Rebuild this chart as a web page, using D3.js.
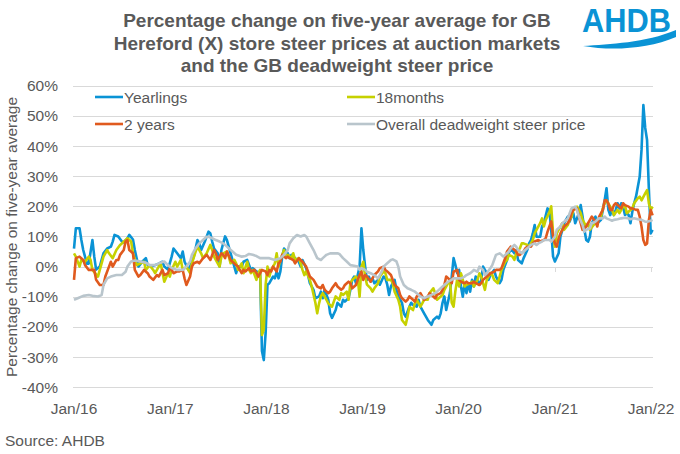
<!DOCTYPE html>
<html><head><meta charset="utf-8">
<script src="https://cdn.jsdelivr.net/npm/d3@7"></script>
<style>body{margin:0;background:#fff}svg{display:block;font-family:"Liberation Sans",Arial,sans-serif}</style>
</head><body><svg id="c" width="680" height="454"></svg>
<script>
// week index (weeks after 1 Jan 2016), % change on five-year average
const yearlings = [[0,6],[1,12.7],[3,12.7],[4,8.8],[5,5.5],[7,1],[8,1],[10,8.8],[11,3.3],[12,-1],[14,0],[15,2.2],[16,4.4],[18,6],[20,6.6],[21,8.3],[22,10.5],[24,10],[26,8.3],[27,8],[29,9.4],[30,10.5],[32,9],[33,5.5],[35,0],[37,1.6],[39,2.8],[40,0.5],[42,0],[44,0.5],[46,1],[48,1.6],[49,0],[51,-1],[53,3.3],[54,6],[56,4.4],[58,2.8],[59,5],[60,1.6],[62,-1],[63,0],[65,3.3],[67,8.8],[68,7.7],[69,5.5],[71,8.3],[73,11.6],[74,11],[75,8.3],[76,6],[78,4.4],[79,0],[80,5.5],[82,10],[83,8.8],[85,4.4],[86,2.2],[88,-2.2],[89,0],[91,0],[92,1.6],[94,2.2],[96,-1.1],[97,-0.5],[99,-1.6],[101,-2.2],[102,-28],[103,-31],[104,-22],[105,-6],[106,-5.5],[108,-3.3],[109,-3.9],[110,-1.6],[111,-3.9],[112,-1.6],[113,3.3],[114,6],[116,4.4],[117,2.8],[118,3.9],[120,2.8],[122,1.6],[123,0],[124,2.2],[126,-0.5],[127,-2.7],[128,-5.5],[130,-7.7],[131,-10.5],[133,-9.9],[134,-8.3],[135,-10.5],[136,-7.7],[138,-11],[139,-15.5],[140,-17],[142,-14.4],[143,-12],[145,-13.3],[146,-11],[147,-11.6],[149,-10.5],[150,-7.7],[151,-4.4],[152,-3.3],[153,-5.5],[155,0],[156,12.7],[157,5.5],[158,0],[159,-4.4],[160,-3.3],[161,-5],[162,-3.9],[163,-5.5],[165,-4.4],[166,-6],[168,-3.3],[169,-3.9],[170,-6],[171,-9.4],[172,-6.6],[174,-4.4],[175,-7.7],[176,-9.9],[178,-12],[179,-15.5],[180,-16.6],[182,-13.3],[183,-12],[184,-12.7],[186,-13.3],[187,-11],[188,-13.3],[190,-15.5],[191,-16.6],[192,-17.7],[194,-19.3],[195,-17.7],[197,-16.6],[198,-17.2],[199,-15.5],[200,-12],[201,-9.9],[202,-14.4],[204,-8.8],[205,-3.3],[206,2.8],[207,0.5],[208,-2.2],[209,-1.1],[210,-6.6],[211,-10],[212,-5.5],[213,-8.8],[214,-5.5],[215,-8.3],[216,-4.4],[217,-6.6],[218,-3.3],[220,-6],[221,-4.4],[222,0],[224,-2.2],[225,-4.4],[226,-2.8],[228,-1.1],[229,-3.3],[231,-5.5],[232,-4.4],[233,-1.1],[235,2.2],[236,4.4],[237,6],[239,4.4],[240,5.5],[241,2.2],[243,1.1],[244,2.8],[246,5.5],[247,7.7],[248,8.8],[249,11],[250,13.8],[251,9.9],[253,9.9],[254,13.3],[255,14.4],[257,19.3],[258,18.8],[259,12],[260,3.3],[261,1.7],[263,4.4],[264,10],[265,12],[266,14.4],[268,16.6],[269,14.9],[270,16.6],[271,17.7],[272,14.4],[274,17.7],[275,20.4],[276,16.6],[277,12.2],[278,8.8],[279,8.3],[280,9.9],[281,14.4],[282,15.5],[283,16.6],[284,14.4],[286,15.5],[287,18.8],[288,22],[289,26],[290,18.8],[291,17.1],[292,18.8],[293,17.1],[294,18.8],[295,21],[296,19.3],[297,21],[298,19.9],[299,17.1],[300,17.7],[301,17.1],[302,14.4],[303,18.2],[304,21],[305,23.2],[306,26.5],[307,29.8],[308,38.7],[309,53.6],[310,46],[311,42],[312,25.4],[313,11],[314,12.2]];
const months18 = [[0,4.4],[1,3.3],[3,0],[4,2.2],[6,1.6],[8,3.3],[9,2.2],[10,-1.1],[13,-3.3],[14,-1.1],[16,3.3],[18,5.5],[19,4.4],[21,2.8],[23,5.5],[25,7.2],[26,7.7],[28,8.8],[29,9.4],[31,8.3],[32,4.4],[34,0.5],[36,1.1],[38,1.6],[39,-1.1],[41,0.5],[43,-1.1],[44,-2.2],[46,0],[47,1.1],[49,-5],[51,-2.2],[52,-3.3],[53,-1.1],[55,1.6],[56,0],[58,2.2],[59,-1.1],[61,0],[63,-2.2],[64,1.1],[66,5],[67,6.6],[69,4.4],[70,2.8],[72,4.4],[74,7.2],[75,5.5],[76,3.3],[78,1.1],[79,0],[80,3.3],[81,4.4],[83,5],[84,3.3],[85,1.1],[87,2.2],[88,1.1],[89,-1.1],[91,1.1],[92,-2.2],[94,1.6],[95,-1.1],[96,-2.2],[97,-1.1],[99,-4.4],[100,-2.2],[101,-1.1],[102,-22.7],[103,-21],[104,-6],[105,0],[106,-3.3],[107,-1.1],[109,1.1],[110,4.4],[111,0],[112,2.2],[114,5.5],[115,3.3],[116,3.9],[118,2.8],[119,4.4],[120,2.2],[122,2.8],[123,1.1],[124,-1.1],[125,-2.8],[126,-1.6],[128,-4.4],[129,-6.6],[131,-12],[132,-15.5],[133,-12.2],[134,-9.9],[135,-8.8],[137,-11],[138,-12.2],[140,-13.3],[141,-11.6],[142,-9.9],[144,-11],[145,-8.8],[146,-9.4],[148,-8.3],[149,-11],[150,-5.5],[151,-4.4],[153,-3.3],[154,-4],[155,-10],[156,0],[157,1.6],[158,-3.3],[159,-6],[161,-7.2],[162,-8.3],[163,-7.2],[165,-5.5],[166,-3.3],[168,-1.6],[169,-2.2],[170,-4.4],[172,-4.4],[173,-5.5],[174,-8.3],[176,-11],[177,-13.3],[178,-17.7],[180,-19.3],[181,-16.6],[182,-13.3],[184,-14.4],[185,-12.2],[186,-11],[188,-13.3],[189,-12.2],[190,-11],[192,-11],[193,-8.8],[195,-7.2],[196,-8.8],[197,-11],[199,-9.9],[200,-9.4],[201,-7.7],[203,-5.5],[204,-4.4],[205,-12],[206,-13.3],[207,-8],[208,-4],[209,-6.6],[210,-2.2],[211,-4.4],[212,-6.6],[213,-6],[215,-5.5],[216,-5],[217,-6.6],[219,-4.4],[220,-2.2],[221,-3.3],[223,-7.7],[224,-4.4],[226,-2.2],[227,-2.8],[228,-4.4],[230,-5.5],[231,-3.3],[232,-1.1],[234,1.6],[235,2.2],[236,3.9],[238,3.3],[239,2.2],[240,4.4],[242,6.1],[243,7.7],[244,7.7],[246,7.2],[247,6.6],[249,8.8],[250,11],[251,12.2],[253,14.4],[254,16],[255,13.3],[256,15.5],[258,18],[259,20],[260,11],[261,6.6],[262,11],[264,13.3],[265,14.4],[266,12.2],[268,13.8],[269,15.5],[270,16.6],[271,18.8],[273,19.9],[274,18.8],[275,17.7],[276,15.5],[278,13.3],[279,14.4],[280,12.2],[282,13.8],[283,14.4],[284,15.5],[286,16.6],[287,19.3],[288,21],[289,22],[291,19.9],[292,18.8],[293,17.1],[295,18.8],[296,17.7],[298,19.9],[299,20.4],[300,17.7],[302,18.8],[303,19.3],[304,21],[306,22.7],[307,23.2],[308,22],[310,24.3],[311,25.4],[312,21],[313,18.8],[314,19.9]];
const years2 = [[0,-4.4],[1,2.8],[3,3.3],[5,2.2],[6,0.5],[8,-1.1],[10,-1.1],[11,-1.1],[12,-4.4],[14,-6.1],[16,-6.1],[17,-3.3],[19,0],[20,1.6],[21,0],[23,2.2],[24,2.2],[25,3.9],[27,5.5],[28,8.3],[29,8.8],[30,5.5],[32,4.4],[33,-1.1],[35,-3.3],[36,-2.8],[38,-1.1],[40,-2.2],[41,-3.3],[43,-4.4],[45,-2.8],[46,-3.3],[48,-1.1],[49,-2.8],[51,-2.2],[52,-0.5],[53,-1.1],[54,-2.2],[56,-1.6],[57,-1.6],[59,-1.1],[60,-3.9],[61,-6.1],[63,-3.3],[64,0],[65,1.1],[67,1.6],[68,1.1],[70,2.8],[71,3.3],[72,3.9],[74,2.2],[76,5.5],[77,4.4],[78,2.2],[80,4.4],[81,3.9],[82,2.8],[83,5],[85,2.2],[86,1.6],[88,0.5],[89,0],[91,-2.2],[92,-1.1],[93,-1.6],[95,-0.5],[96,-1.6],[98,-1.1],[99,-2.2],[100,-3.3],[102,-1.1],[104,-1.6],[105,-2.8],[106,-1.1],[107,-1.6],[108,0],[110,-1.6],[111,1.1],[112,1.6],[113,3.9],[115,2.8],[116,3.3],[117,2.8],[119,2.2],[120,1.1],[122,2.8],[123,2.2],[124,1.6],[126,0],[127,-1.6],[128,-3.3],[130,-4.4],[131,-5.5],[132,-6.6],[134,-7.2],[135,-6.1],[136,-7.7],[138,-8.8],[139,-8.3],[140,-7.2],[142,-5.5],[143,-6.6],[145,-7.7],[146,-7.2],[147,-6.1],[149,-5],[150,-5.5],[151,-7.2],[153,-6.1],[154,-4.4],[155,-2.8],[156,-1.7],[157,-4.4],[158,-2.8],[159,-3.3],[161,-5],[162,-3.9],[163,-2.8],[165,-1.6],[166,-0.5],[168,0],[169,-1.1],[170,-1.6],[172,-2.8],[173,-4.4],[174,-6.1],[176,-7.2],[177,-9.4],[178,-10.5],[180,-11.6],[181,-11],[182,-9.9],[184,-11],[185,-11.6],[186,-9.9],[188,-8.8],[189,-9.9],[190,-11],[192,-9.9],[193,-8.8],[195,-9.9],[196,-10.5],[197,-9.4],[199,-8.8],[200,-7.7],[201,-6.1],[202,-3.3],[204,-4.4],[205,-5.5],[206,-1.7],[208,-1.1],[209,-4.4],[210,-5],[212,-5.5],[213,-5],[214,-5.5],[216,-5.5],[217,-5],[218,-5.5],[220,-6.1],[221,-5.5],[222,-4.4],[224,-3.3],[225,-2.8],[226,-2.2],[228,-1.7],[229,-1.1],[231,-1.1],[232,-0.5],[233,1.1],[234,2.8],[235,5],[237,6.6],[238,6.1],[240,5],[241,3.9],[242,3.9],[244,5],[245,6.1],[246,6.6],[248,6.6],[249,7.7],[250,8.3],[252,8.8],[253,8.3],[255,8.8],[256,9.4],[257,11.6],[258,13.3],[259,15],[260,10],[261,7.7],[262,6.6],[263,9.4],[264,11],[265,12.2],[266,13.3],[268,14.4],[269,15.5],[270,17.7],[271,18.8],[273,19.3],[274,16.6],[275,14.4],[276,12.2],[278,13.3],[279,14.4],[280,15.5],[281,16.6],[283,14.9],[284,13.3],[285,16.6],[287,18.8],[288,22],[289,22],[290,20.9],[291,18.8],[292,18.8],[293,20.4],[294,21],[296,19.9],[297,19.3],[298,21],[299,20.4],[301,19.9],[302,19.3],[303,19.3],[305,18.8],[306,18.8],[307,16.6],[308,13.3],[309,8.8],[310,7.2],[311,7.7],[312,15.5],[313,18.8],[314,17]];
const deadweight = [[0,-11],[2,-10.5],[5,-9.7],[8,-9.4],[10,-9.7],[13,-9.9],[15,-9.4],[16,-6.1],[18,-3.9],[20,-3.3],[23,-2.8],[26,-2.8],[28,-1.7],[29,0],[31,1.7],[33,2],[36,1.7],[39,1.3],[41,0.5],[44,0.5],[47,1.3],[49,1.7],[51,0.5],[53,-0.5],[56,-1.1],[59,-1.1],[61,0],[63,1.7],[64,3.9],[66,6.1],[68,7.7],[70,8.8],[72,9.9],[73,9.9],[75,9.4],[77,8.8],[79,8.3],[81,7.7],[82,7.2],[84,6.1],[86,5],[88,3.9],[90,3.5],[91,3.3],[93,3.5],[95,4.2],[97,3.9],[99,3.5],[101,2.8],[102,2.8],[106,2.8],[109,2.2],[112,2.8],[114,3.9],[116,5.5],[117,7.7],[119,9.4],[121,10.5],[123,10],[125,10.5],[126,10],[128,7.7],[130,5.5],[132,2.8],[134,2.2],[135,2.8],[137,3.9],[139,4.4],[141,4.4],[143,4.4],[144,4.2],[146,2.8],[148,1.7],[150,0.5],[152,0.3],[154,0],[155,-1.1],[156,-0.5],[158,-1.1],[159,-1.7],[161,-2.2],[163,-2.8],[165,-3.9],[167,-1.7],[168,0],[170,1.1],[172,2.2],[173,2.4],[175,1.7],[176,0],[177,-3.3],[179,-6.1],[181,-7.2],[183,-7.7],[185,-8.3],[186,-8.8],[188,-9.9],[190,-10.5],[192,-9.9],[194,-9.4],[196,-8.8],[197,-8.3],[199,-7.2],[201,-6.1],[203,-5],[205,-4.4],[206,-3.9],[208,-3.9],[210,-3.9],[212,-3.3],[213,-2.8],[215,-2.2],[216,-1.7],[217,-1.1],[219,-1.7],[220,0],[222,-1.1],[223,-2.8],[224,-2.2],[226,-0.5],[227,0.5],[228,2.2],[229,3.9],[231,4.4],[232,3.9],[233,3.3],[235,4.4],[236,5],[237,6.1],[239,7.2],[240,6.6],[241,5.5],[243,4.4],[244,5],[246,6.1],[247,6.6],[248,7.2],[250,7.7],[251,7.2],[252,7.7],[254,8.3],[255,8.8],[256,8.8],[258,8.8],[259,8.3],[261,9.9],[262,12.2],[264,13.3],[265,14.4],[266,14.9],[268,16],[269,17.7],[270,19.3],[272,19.9],[273,18.8],[274,16.6],[276,13.8],[277,11.6],[278,12.2],[280,12.7],[281,14.4],[283,14.9],[284,15.5],[285,16],[287,16],[288,16.6],[289,16],[291,15.5],[292,15.2],[293,15.5],[295,15.7],[297,16],[299,16.2],[301,16],[302,15.7],[304,16],[306,15.7],[308,15.5],[310,14.9],[311,14.9],[313,15.2],[314,15.5]];

const seriesNames = ["Yearlings","18months","2 years","Overall deadweight steer price"];
const seriesColors = ["#0a93d5","#c6d100","#e05a1e","#b9c5cc"];
const yTicks = [-40,-30,-20,-10,0,10,20,30,40,50,60];
const xTickYears = [2016,2017,2018,2019,2020,2021,2022];
const titleLines = ["Percentage change on five-year average for GB","Hereford (X) store steer prices at auction markets","and the GB deadweight steer price"];

const svg = d3.select("#c");
const grey = "#595959";
const start = new Date(2016,0,1);
const toDate = w => d3.timeDay.offset(start, 7*w);

const x = d3.scaleTime().domain([new Date(2016,0,1), new Date(2022,0,1)]).range([74, 651]);
const y = d3.scaleLinear().domain([-40,60]).range([387.2, 85.7]);

// title
svg.append("g").selectAll("text").data(titleLines).join("text")
  .attr("x",337).attr("y",(d,i)=>27+i*22.5).attr("text-anchor","middle")
  .attr("font-size",19).attr("font-weight","bold").attr("fill",grey).text(d=>d);

// logo
const logo = svg.append("g");
logo.append("text").attr("x",582).attr("y",32).attr("font-size",33).attr("font-weight","bold")
  .attr("fill","#0a93d5").attr("textLength",89).attr("lengthAdjust","spacingAndGlyphs").text("AHDB");
logo.append("path").attr("d","M583,46 C610,44 645,43 676,30 L676,37 C648,49 612,51 583,46 Z").attr("fill","#0a93d5");

// grid
svg.append("g").selectAll("line").data(yTicks).join("line")
  .attr("x1",73).attr("x2",653).attr("y1",d=>Math.round(y(d))+0.5).attr("y2",d=>Math.round(y(d))+0.5)
  .attr("stroke","#d9d9d9").attr("stroke-width",1);

// x tick marks at zero line
svg.append("g").selectAll("line").data(xTickYears).join("line")
  .attr("x1",d=>Math.round(x(new Date(d,0,1)))+0.5).attr("x2",d=>Math.round(x(new Date(d,0,1)))+0.5)
  .attr("y1",Math.round(y(0))).attr("y2",Math.round(y(0))+5).attr("stroke","#d9d9d9");

// y labels
svg.append("g").selectAll("text").data(yTicks).join("text")
  .attr("x",58).attr("y",d=>y(d)+5.5).attr("text-anchor","end").attr("font-size",15.5).attr("fill",grey)
  .text(d=>d+"%");

// x labels
svg.append("g").selectAll("text").data(xTickYears).join("text")
  .attr("x",d=>x(new Date(d,0,1))).attr("y",414).attr("text-anchor","middle").attr("font-size",15.5).attr("fill",grey)
  .text(d=>d3.timeFormat("%b/%y")(new Date(d,0,1)));

// y axis title
svg.append("text").attr("transform","translate(17,237) rotate(-90)").attr("text-anchor","middle")
  .attr("font-size",15.5).attr("fill",grey).text("Percentage change on five-year average");

// source
svg.append("text").attr("x",5).attr("y",446).attr("font-size",15.5).attr("fill",grey).text("Source: AHDB");

// lines
const line = d3.line().x(d=>x(toDate(d[0]))).y(d=>y(d[1]));
[yearlings, months18, years2, deadweight].forEach((s,i)=>{
  svg.append("path").datum(s).attr("d",line).attr("fill","none").attr("stroke",seriesColors[i])
    .attr("stroke-width",2.6).attr("stroke-linejoin","round");
});

// legend
const legPos = [[95,97],[347,97],[95,124],[347,124]];
const leg = svg.append("g");
seriesNames.forEach((n,i)=>{
  const [lx,ly] = legPos[i];
  leg.append("line").attr("x1",lx).attr("x2",lx+28).attr("y1",ly).attr("y2",ly)
    .attr("stroke",seriesColors[i]).attr("stroke-width",2.6);
  leg.append("text").attr("x",lx+29).attr("y",ly+5.5).attr("font-size",15.5).attr("fill",grey).text(n);
});
</script></body></html>
